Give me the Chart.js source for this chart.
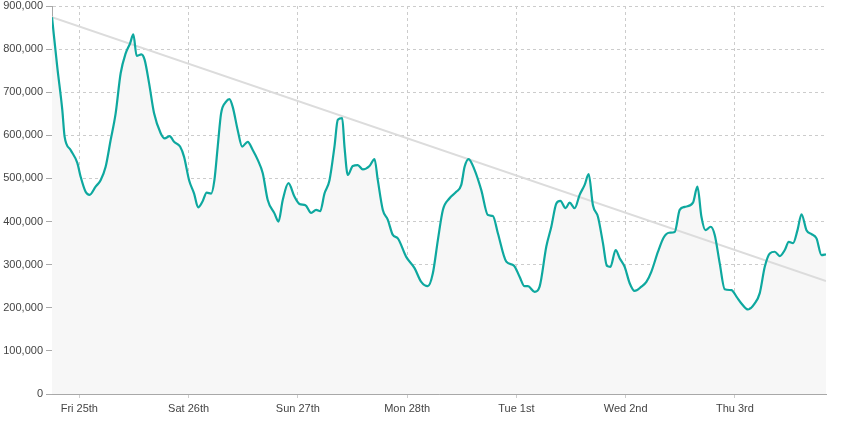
<!DOCTYPE html>
<html>
<head>
<meta charset="utf-8">
<script src="https://cdn.jsdelivr.net/npm/chart.js@4"></script>
<style>
  html, body { margin: 0; padding: 0; background: #fff; }
  #wrap { width: 846px; height: 422px; }
</style>
</head>
<body>
<div id="wrap"><canvas id="c" width="846" height="422"></canvas></div>
<script>
// Hours relative to Fri 25th 00:00
const dayLabels = ['Fri 25th', 'Sat 26th', 'Sun 27th', 'Mon 28th', 'Tue 1st', 'Wed 2nd', 'Thu 3rd'];
const dayHours = [0, 24, 48, 72, 96, 120, 144];
const rangeHours = [-6, 164];
const yTickValues = [0, 100000, 200000, 300000, 400000, 500000, 600000, 700000, 800000, 900000];

const hours = [
  -6.0, -4.84, -3.74, -3.23, -1.91, -0.44, 0.29, 1.38, 2.26, 3.58,
  4.68, 5.78, 6.88, 7.98, 9.08, 10.18, 11.14, 11.87, 12.59, 13.63,
  14.35, 15.32, 16.42, 17.87, 18.75, 19.85, 20.81, 22.13, 23.01, 24.11,
  25.21, 26.09, 27.03, 27.98, 28.95, 29.67, 30.40, 31.14, 32.24, 32.97,
  33.69, 34.79, 35.76, 36.99, 38.09, 39.19, 40.29, 41.38, 42.86, 43.74,
  44.68, 45.93, 47.25, 48.35, 49.67, 50.92, 52.02, 52.90, 53.85, 54.95,
  56.04, 56.77, 57.74, 58.24, 58.97, 60.07, 61.16, 62.26, 63.74, 64.84,
  65.56, 66.66, 67.76, 68.86, 69.96, 71.80, 73.63, 75.10, 76.55, 77.65,
  78.75, 79.85, 81.32, 82.79, 83.89, 84.62, 85.49, 86.81, 88.29, 89.74,
  90.84, 91.93, 93.78, 95.45, 96.70, 97.80, 98.53, 100.0, 101.1, 102.57,
  103.67, 104.77, 105.65, 106.81, 107.69, 108.79, 109.89, 110.99, 111.87, 112.81,
  113.91, 115.01, 115.89, 116.64, 117.80, 118.68, 119.78, 120.88, 121.98, 123.45,
  124.55, 125.65, 127.10, 128.35, 129.52, 130.77, 131.87, 132.97, 134.79, 135.76,
  136.64, 137.52, 138.68, 139.56, 140.66, 141.76, 143.23, 144.33, 145.43, 146.88,
  148.35, 149.45, 150.55, 151.65, 152.75, 153.85, 154.95, 155.82, 156.77, 157.74,
  158.62, 159.71, 160.81, 161.91, 163.01, 164.0
];
const visits = [
  874000, 758000, 659000, 597000, 566000, 536000, 504000, 469000, 462000, 481000,
  496000, 527000, 589000, 651000, 744000, 790000, 813000, 834000, 784000, 788000,
  775000, 721000, 651000, 605000, 593000, 598000, 585000, 574000, 550000, 496000,
  465000, 433000, 446000, 467000, 465000, 496000, 574000, 651000, 678000, 684000,
  666000, 612000, 574000, 585000, 566000, 543000, 512000, 450000, 419000, 400000,
  450000, 489000, 458000, 441000, 438000, 420000, 427000, 424000, 465000, 496000,
  574000, 636000, 640000, 574000, 508000, 529000, 531000, 521000, 529000, 545000,
  496000, 427000, 404000, 369000, 361000, 318000, 292000, 260000, 250000, 280000,
  357000, 427000, 454000, 469000, 485000, 527000, 545000, 520000, 473000, 415000,
  413000, 373000, 307000, 298000, 272000, 250000, 250000, 237000, 249000, 342000,
  388000, 442000, 448000, 431000, 444000, 431000, 462000, 485000, 510000, 438000,
  411000, 350000, 297000, 295000, 334000, 315000, 295000, 257000, 239000, 249000,
  260000, 284000, 330000, 363000, 374000, 376000, 427000, 434000, 444000, 481000,
  411000, 380000, 388000, 369000, 303000, 243000, 241000, 226000, 210000, 196000,
  210000, 234000, 295000, 326000, 330000, 320000, 334000, 353000, 350000, 380000,
  417000, 380000, 371000, 361000, 322000, 324000
];
const trendHours = [-6, 164];
const trendValues = [874000, 262000];

const FONT = "'Liberation Sans', Arial, sans-serif";

new Chart(document.getElementById('c'), {
  type: 'line',
  data: {
    datasets: [
      {
        label: 'Visits',
        data: hours.map((h, i) => ({ x: h, y: visits[i] })),
        borderColor: '#0ea89f',
        borderWidth: 2.2,
        backgroundColor: '#f7f7f7',
        fill: 'origin',
        pointRadius: 0,
        cubicInterpolationMode: 'monotone',
        order: 1
      },
      {
        label: 'Trend',
        data: trendHours.map((h, i) => ({ x: h, y: trendValues[i] })),
        borderColor: '#dcdcdc',
        borderWidth: 2,
        fill: false,
        pointRadius: 0,
        order: 2
      }
    ]
  },
  options: {
    responsive: false,
    devicePixelRatio: 1,
    animation: false,
    layout: { padding: { top: 6, right: 20, left: 0, bottom: 0 } },
    plugins: {
      legend: { display: false },
      tooltip: { enabled: false },
      filler: { drawTime: 'beforeDatasetsDraw' }
    },
    scales: {
      x: {
        type: 'linear',
        min: rangeHours[0],
        max: rangeHours[1],
        afterBuildTicks: (scale) => { scale.ticks = dayHours.map(v => ({ value: v })); },
        afterFit: (scale) => { scale.height = 28; scale.paddingLeft = 0; scale.paddingRight = 0; },
        ticks: {
          autoSkip: false,
          maxRotation: 0,
          padding: 2,
          color: '#444',
          font: { family: FONT, size: 11 },
          callback: (v) => { const i = dayHours.indexOf(v); return i >= 0 ? dayLabels[i] : ''; }
        },
        grid: {
          color: '#cccccc',
          lineWidth: 1,
          tickLength: 6,
          tickColor: '#cccccc',
          tickBorderDash: [3, 3],
          drawOnChartArea: true
        },
        border: { display: true, color: '#a8a8a8', width: 1, dash: [3, 3] }
      },
      y: {
        min: 0,
        max: 900000,
        afterBuildTicks: (scale) => { scale.ticks = yTickValues.map(v => ({ value: v })); },
        afterFit: (scale) => { scale.width = 52; scale.paddingTop = 0; scale.paddingBottom = 0; },
        ticks: {
          padding: 3,
          color: '#444',
          font: { family: FONT, size: 11 },
          callback: (v) => Number(v).toLocaleString('en-US')
        },
        grid: {
          color: '#cccccc',
          lineWidth: 1,
          tickLength: 6,
          tickColor: '#aaaaaa'
        },
        border: { display: true, color: '#a8a8a8', width: 1, dash: [3, 3] }
      }
    }
  }
});
</script>
</body>
</html>
